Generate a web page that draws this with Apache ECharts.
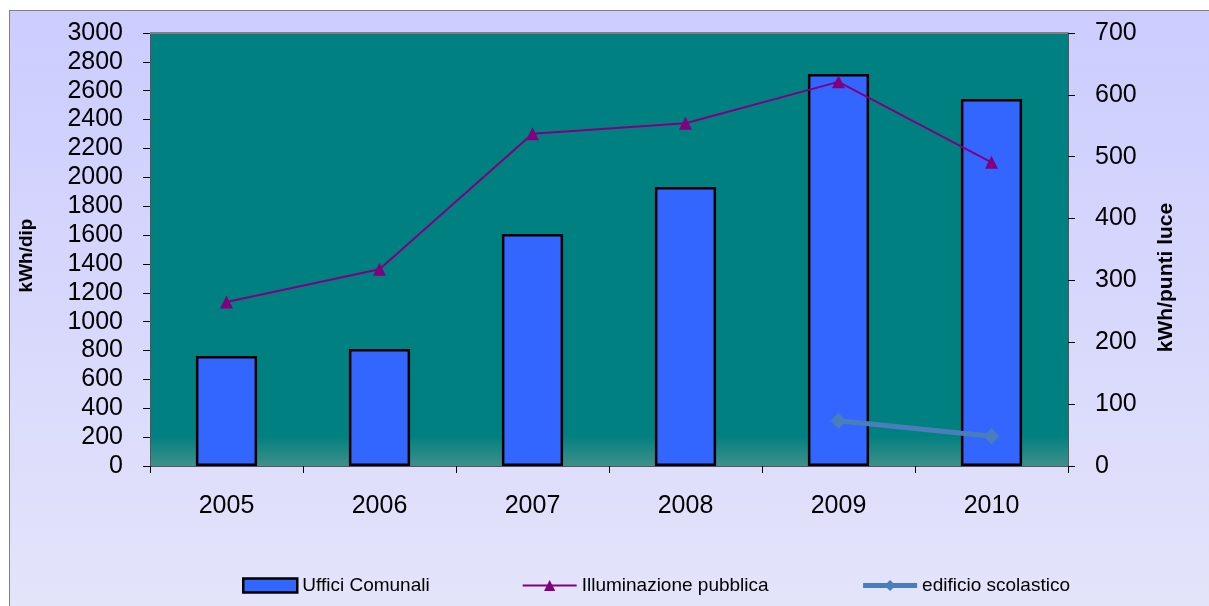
<!DOCTYPE html>
<html><head><meta charset="utf-8">
<script src="https://cdn.jsdelivr.net/npm/echarts@6/dist/echarts.min.js"></script>
<style>
html,body{margin:0;padding:0;background:#fff;}
#frame{position:absolute;left:9px;top:10px;width:1210px;height:610px;border:1px solid #808080;background:linear-gradient(#ccccff,#e4e4fa);}
#c{position:absolute;left:0;top:0;width:1209px;height:606px;}
</style></head>
<body>
<div id="frame"></div>
<div id="c"></div>
<script>
const categories = ['2005','2006','2007','2008','2009','2010'];
const ufficiComunali = [762, 811, 1607, 1933, 2716, 2543];
const illuminazionePubblica = [265, 318, 537, 554, 621, 491];
const edificioScolastico = [null, null, null, null, 73, 48];

const chart = echarts.init(document.getElementById('c'), null, {renderer:'canvas'});
const font = 'Liberation Sans, Arial, sans-serif';
chart.setOption({
  backgroundColor: 'transparent',
  animation: false,
  grid: {left:150, right:141, top:33, bottom:140, show:true, borderWidth:0,
    backgroundColor: {type:'linear', x:0, y:0, x2:0, y2:1, colorStops:[
      {offset:0, color:'#008080'}, {offset:0.93, color:'#008080'}, {offset:1, color:'#3f8f8a'}]}},
  graphic: [{type:'line', shape:{x1:150, y1:33, x2:1068, y2:33}, style:{stroke:'#808080', lineWidth:2}, z:10}],
  legend: {top:571, left:237, itemGap:92, textStyle:{fontFamily:font, fontSize:19, color:'#000'},
    data:[
      {name:'Uffici Comunali', icon:'rect', itemStyle:{color:'#3366ff', borderColor:'#000', borderWidth:2.5}},
      {name:'Illuminazione pubblica'},
      {name:'edificio scolastico', lineStyle:{width:5}}],
    itemWidth:54, itemHeight:14},
  xAxis: {type:'category', data:categories,
    axisLine:{lineStyle:{color:'#555', width:1}},
    axisTick:{show:true, alignWithLabel:false, length:7, lineStyle:{color:'#000'}},
    axisLabel:{fontFamily:font, fontSize:25, color:'#000', margin:28}},
  yAxis: [
    {type:'value', min:0, max:3000, interval:200, name:'kWh/dip', nameLocation:'middle', nameGap:114, nameRotate:90,
     nameTextStyle:{fontFamily:font, fontSize:19, fontWeight:'bold', color:'#000', padding:[0,12,0,0]},
     axisLine:{show:true, lineStyle:{color:'#555'}}, axisTick:{show:true, length:7, lineStyle:{color:'#000'}},
     splitLine:{show:false},
     axisLabel:{fontFamily:font, fontSize:25, color:'#000', margin:27, formatter: v => String(v)}},
    {type:'value', min:0, max:700, interval:100, name:'kWh/punti luce', nameLocation:'middle', nameGap:88, nameRotate:90,
     nameTextStyle:{fontFamily:font, fontSize:21, fontWeight:'bold', color:'#000', padding:[0,56,0,0]},
     axisLine:{show:true, lineStyle:{color:'#555'}}, axisTick:{show:true, length:7, lineStyle:{color:'#000'}},
     splitLine:{show:false},
     axisLabel:{fontFamily:font, fontSize:25, color:'#000', margin:27}}
  ],
  series: [
    {name:'Uffici Comunali', type:'bar', data:ufficiComunali, barWidth:'40%',
     itemStyle:{color:'#3366ff', borderColor:'#000', borderWidth:2.5}},
    {name:'Illuminazione pubblica', type:'line', yAxisIndex:1, data:illuminazionePubblica,
     symbol:'triangle', symbolSize:13, lineStyle:{color:'#800080', width:2}, itemStyle:{color:'#800080'}},
    {name:'edificio scolastico', type:'line', yAxisIndex:1, data:edificioScolastico,
     symbol:'diamond', symbolSize:16, lineStyle:{color:'#4a7ebb', width:5}, itemStyle:{color:'#4a7ebb'}}
  ]
});
</script>
</body></html>
